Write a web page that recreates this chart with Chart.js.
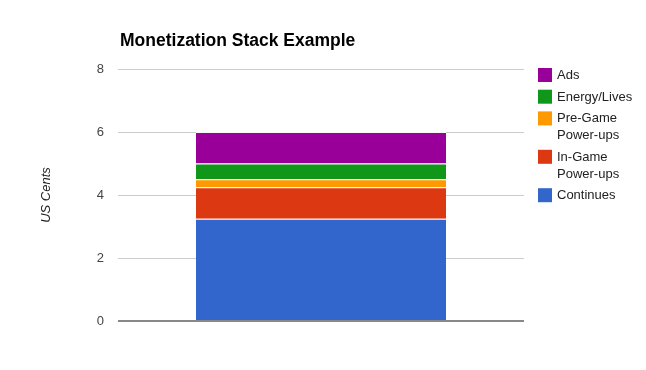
<!DOCTYPE html>
<html>
<head>
<meta charset="utf-8">
<script src="https://cdn.jsdelivr.net/npm/chart.js@4/dist/chart.umd.min.js"></script>
<style>
  html, body { margin: 0; padding: 0; background: #fff; }
  #wrap { width: 646px; height: 370px; }
</style>
</head>
<body>
<div id="wrap"><canvas id="stackChart" width="646" height="370"></canvas></div>
<script>
// --- DATA ---
const categories = [""];
const seriesNames = [["Continues"], ["In-Game", "Power-ups"], ["Pre-Game", "Power-ups"], ["Energy/Lives"], ["Ads"]];
const seriesColors = ["#3366cc", "#dc3912", "#ff9900", "#109618", "#990099"];
const continuesVals = [3.25];
const inGameVals = [1.0];
const preGameVals = [0.25];
const energyVals = [0.5];
const adsVals = [1.0];
const yTicks = [0, 2, 4, 6, 8];

const chartTitle = "Monetization Stack Example";
const yAxisTitle = "US Cents";

const seriesValues = [continuesVals, inGameVals, preGameVals, energyVals, adsVals];

// --- custom title + legend (right side, reversed order, wrapped labels) ---
const sideLegend = {
    id: "sideLegend",
    afterDraw(chart) {
        const ctx = chart.ctx;
        ctx.save();

        // title
        ctx.fillStyle = "#000";
        ctx.font = "bold 17.5px 'Liberation Sans', Arial, sans-serif";
        ctx.textAlign = "left";
        ctx.textBaseline = "alphabetic";
        ctx.fillText(chartTitle, 120, 46);

        // legend
        ctx.font = "13px 'Liberation Sans', Arial, sans-serif";
        ctx.textBaseline = "middle";
        let y = 68;
        const ds = chart.data.datasets.slice().reverse();
        ds.forEach(d => {
            ctx.fillStyle = d.backgroundColor;
            ctx.fillRect(538, y, 14, 14);
            ctx.fillStyle = "#222";
            const lines = d.label;
            lines.forEach((ln, i) => {
                ctx.fillText(ln, 557, y + 7.5 + i * 17);
            });
            y += 21.7 + (lines.length - 1) * 16.7;
        });
        ctx.restore();
    }
};

const datasets = seriesNames.map((name, i) => ({
    label: name,
    data: seriesValues[i],
    backgroundColor: seriesColors[i],
    borderColor: "rgba(255,255,255,0.85)",
    borderWidth: { top: 1, left: 0, right: 0, bottom: 0 },
    borderSkipped: false,
    categoryPercentage: 1,
    barPercentage: 0.616
}));

new Chart(document.getElementById("stackChart").getContext("2d"), {
    type: "bar",
    data: { labels: categories, datasets: datasets },
    options: {
        responsive: false,
        animation: false,
        layout: { padding: { top: 69, right: 122, bottom: 49, left: 30 } },
        plugins: {
            legend: { display: false },
            tooltip: { enabled: false },
            title: { display: false }
        },
        scales: {
            x: {
                stacked: true,
                grid: { display: false, drawTicks: false },
                border: { display: false },
                ticks: { display: false }
            },
            y: {
                stacked: true,
                min: 0,
                max: 8,
                afterBuildTicks(scale) {
                    scale.ticks = yTicks.map(v => ({ value: v }));
                },
                afterFit(scale) {
                    scale.width = 88;
                },
                border: { display: false },
                grid: {
                    drawTicks: false,
                    color: ctx => ctx.tick && ctx.tick.value === 0 ? "#888" : "#cccccc",
                    lineWidth: ctx => ctx.tick && ctx.tick.value === 0 ? 2 : 1
                },
                ticks: {
                    padding: 14,
                    color: "#444",
                    font: { family: "'Liberation Sans', Arial, sans-serif", size: 13 }
                },
                title: {
                    display: true,
                    text: yAxisTitle,
                    color: "#222",
                    padding: { top: 9, bottom: 0 },
                    font: { family: "'Liberation Sans', Arial, sans-serif", size: 13, style: "italic" }
                }
            }
        }
    },
    plugins: [sideLegend]
});
</script>
</body>
</html>
